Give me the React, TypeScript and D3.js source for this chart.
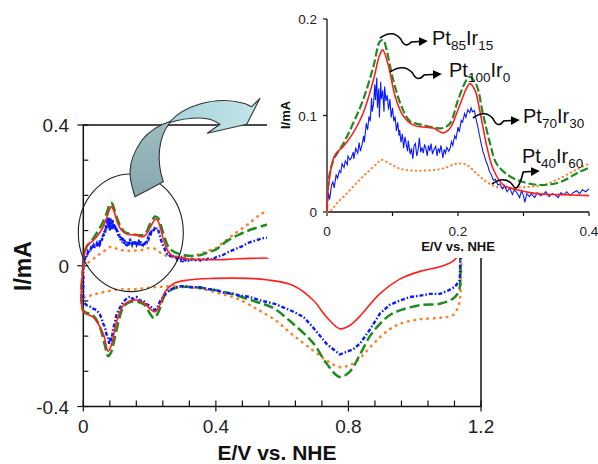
import React from "react";
import * as d3 from "d3";

type P = [number, number];

// ---------- axis ticks ----------
const MAIN_X_LABELS = [0, 0.4, 0.8, 1.2];
const MAIN_Y_LABELS = [0.4, 0, -0.4];
const INSET_X_LABELS = [0, 0.2, 0.4];
const INSET_Y_LABELS = [0, 0.1, 0.2];
const INSET_X_TICKS = [0, 0.1, 0.2, 0.3, 0.4];

// ---------- series (E/V, I/mA) ----------
const redAnodic: P[] = [
  [0, 0.0], [0.002, 0.026], [0.012, 0.059], [0.025, 0.068], [0.04, 0.082], [0.055, 0.102],
  [0.071, 0.137], [0.08, 0.162], [0.085, 0.168], [0.094, 0.151], [0.104, 0.12], [0.116, 0.1],
  [0.132, 0.09], [0.147, 0.088], [0.162, 0.087], [0.177, 0.082], [0.188, 0.087], [0.2, 0.106],
  [0.213, 0.128], [0.218, 0.133], [0.226, 0.126], [0.233, 0.106], [0.244, 0.068], [0.254, 0.044],
  [0.269, 0.028], [0.29, 0.023], [0.32, 0.019], [0.356, 0.018], [0.4, 0.017], [0.45, 0.019],
  [0.5, 0.021], [0.56, 0.022],
];
const greenAnodic: P[] = [
  [0, 0.0], [0.003, 0.035], [0.01, 0.054], [0.025, 0.071], [0.04, 0.092], [0.055, 0.116],
  [0.071, 0.151], [0.081, 0.177], [0.086, 0.178], [0.091, 0.168], [0.101, 0.137], [0.114, 0.109],
  [0.127, 0.094], [0.147, 0.09], [0.167, 0.087], [0.177, 0.087], [0.188, 0.092], [0.2, 0.116],
  [0.213, 0.137], [0.218, 0.14], [0.228, 0.132], [0.238, 0.102], [0.249, 0.071], [0.259, 0.05],
  [0.279, 0.037], [0.305, 0.03], [0.33, 0.028], [0.356, 0.031], [0.381, 0.04], [0.4, 0.046],
  [0.433, 0.07], [0.473, 0.09], [0.513, 0.105], [0.56, 0.118],
];
const orangeAnodic: P[] = [
  [0, 0.0], [0.007, 0.002], [0.015, 0.009], [0.03, 0.019], [0.045, 0.03], [0.06, 0.04],
  [0.076, 0.05], [0.083, 0.054], [0.096, 0.05], [0.111, 0.045], [0.127, 0.043], [0.152, 0.043],
  [0.177, 0.045], [0.198, 0.05], [0.213, 0.049], [0.228, 0.04], [0.244, 0.031], [0.259, 0.026],
  [0.279, 0.025], [0.305, 0.026], [0.33, 0.028], [0.356, 0.035], [0.381, 0.044], [0.4, 0.05],
  [0.422, 0.066], [0.452, 0.088], [0.493, 0.115], [0.533, 0.145], [0.56, 0.16],
];
const blueAnodic: P[] = [
  [0, 0.004], [0.002, 0.02], [0.004, 0.013], [0.007, 0.028], [0.009, 0.031], [0.011, 0.025],
  [0.014, 0.039], [0.016, 0.035], [0.019, 0.043], [0.021, 0.041], [0.023, 0.05], [0.026, 0.046],
  [0.028, 0.053], [0.031, 0.049], [0.032, 0.058], [0.035, 0.054], [0.037, 0.056], [0.04, 0.062],
  [0.041, 0.055], [0.044, 0.066], [0.047, 0.061], [0.049, 0.072], [0.051, 0.063], [0.053, 0.068],
  [0.056, 0.079], [0.057, 0.072], [0.06, 0.092], [0.062, 0.085], [0.064, 0.099], [0.066, 0.094],
  [0.068, 0.118], [0.069, 0.104], [0.071, 0.112], [0.073, 0.132], [0.074, 0.116], [0.076, 0.139],
  [0.077, 0.108], [0.079, 0.128], [0.08, 0.098], [0.082, 0.135], [0.083, 0.117], [0.085, 0.126],
  [0.087, 0.104], [0.088, 0.13], [0.09, 0.115], [0.092, 0.121], [0.094, 0.106], [0.096, 0.117],
  [0.098, 0.098], [0.1, 0.108], [0.102, 0.094], [0.104, 0.099], [0.106, 0.084], [0.108, 0.093],
  [0.11, 0.079], [0.111, 0.085], [0.113, 0.072], [0.115, 0.081], [0.117, 0.066], [0.119, 0.078],
  [0.121, 0.07], [0.123, 0.063], [0.124, 0.074], [0.127, 0.06], [0.129, 0.066], [0.131, 0.055],
  [0.133, 0.069], [0.135, 0.071], [0.137, 0.058], [0.139, 0.064], [0.141, 0.077], [0.143, 0.062],
  [0.145, 0.067], [0.147, 0.061], [0.149, 0.07], [0.151, 0.066], [0.153, 0.058], [0.155, 0.069],
  [0.157, 0.063], [0.159, 0.071], [0.161, 0.06], [0.163, 0.064], [0.166, 0.068], [0.168, 0.058],
  [0.17, 0.066], [0.172, 0.062], [0.174, 0.069], [0.177, 0.056], [0.179, 0.065], [0.181, 0.061],
  [0.183, 0.067], [0.186, 0.063], [0.188, 0.066], [0.19, 0.073], [0.192, 0.069], [0.195, 0.079],
  [0.197, 0.076], [0.2, 0.088], [0.202, 0.083], [0.205, 0.095], [0.207, 0.093], [0.21, 0.102],
  [0.212, 0.098], [0.215, 0.106], [0.218, 0.103], [0.22, 0.108], [0.222, 0.104], [0.225, 0.105],
  [0.228, 0.095], [0.23, 0.089], [0.233, 0.079], [0.235, 0.072], [0.238, 0.063], [0.24, 0.059],
  [0.243, 0.052], [0.245, 0.049], [0.248, 0.042], [0.25, 0.04], [0.254, 0.033], [0.257, 0.034],
  [0.261, 0.028], [0.264, 0.029], [0.268, 0.024], [0.271, 0.027], [0.275, 0.021], [0.279, 0.025],
  [0.283, 0.018], [0.286, 0.023], [0.29, 0.02], [0.294, 0.015], [0.297, 0.022], [0.3, 0.017],
  [0.302, 0.01], [0.305, 0.019], [0.309, 0.016], [0.312, 0.019], [0.317, 0.015], [0.321, 0.02],
  [0.326, 0.017], [0.33, 0.018], [0.334, 0.021], [0.339, 0.016], [0.344, 0.019], [0.348, 0.018],
  [0.353, 0.015], [0.357, 0.02], [0.362, 0.018], [0.366, 0.021], [0.371, 0.017], [0.376, 0.02],
  [0.381, 0.022], [0.386, 0.019], [0.39, 0.023], [0.395, 0.021], [0.4, 0.024], [0.42, 0.03],
  [0.44, 0.04], [0.46, 0.048], [0.48, 0.056], [0.5, 0.066], [0.52, 0.072], [0.54, 0.078],
  [0.56, 0.08],
];

const redCathodic: P[] = [
  [0, 0], [0, -0.131], [0.03, -0.146], [0.06, -0.193], [0.075, -0.243], [0.085, -0.225],
  [0.1, -0.16], [0.121, -0.112], [0.141, -0.1], [0.166, -0.098], [0.186, -0.108], [0.201, -0.122],
  [0.216, -0.131], [0.231, -0.112], [0.246, -0.075], [0.272, -0.051], [0.312, -0.041],
  [0.392, -0.036], [0.5, -0.036], [0.553, -0.04], [0.633, -0.056], [0.694, -0.098],
  [0.734, -0.146], [0.774, -0.179], [0.805, -0.169], [0.835, -0.143], [0.895, -0.079],
  [0.955, -0.038], [1.016, -0.016], [1.076, -0.003], [1.116, 0.013], [1.131, 0.03], [1.14, 0.06],
];
const blueCathodic: P[] = [
  [0, 0], [0, -0.103], [0.01, -0.112], [0.02, -0.116], [0.03, -0.122], [0.04, -0.126],
  [0.05, -0.138], [0.055, -0.15], [0.06, -0.165], [0.065, -0.173], [0.07, -0.195], [0.075, -0.203],
  [0.078, -0.222], [0.082, -0.204], [0.085, -0.216], [0.09, -0.178], [0.095, -0.163], [0.1, -0.14],
  [0.11, -0.12], [0.121, -0.102], [0.13, -0.094], [0.141, -0.087], [0.15, -0.095], [0.161, -0.089],
  [0.17, -0.099], [0.181, -0.098], [0.19, -0.109], [0.201, -0.113], [0.21, -0.123], [0.216, -0.126],
  [0.223, -0.12], [0.231, -0.102], [0.24, -0.089], [0.251, -0.075], [0.265, -0.067], [0.282, -0.06],
  [0.3, -0.058], [0.322, -0.061], [0.35, -0.061], [0.372, -0.066], [0.4, -0.069], [0.422, -0.076],
  [0.45, -0.079], [0.473, -0.085], [0.5, -0.088], [0.533, -0.098], [0.58, -0.109], [0.633, -0.13],
  [0.665, -0.146], [0.694, -0.176], [0.714, -0.199], [0.734, -0.222], [0.755, -0.238],
  [0.774, -0.252], [0.795, -0.245], [0.815, -0.237], [0.835, -0.221], [0.865, -0.181],
  [0.895, -0.136], [0.925, -0.111], [0.955, -0.099], [0.985, -0.089], [1.016, -0.085],
  [1.046, -0.08], [1.076, -0.08], [1.1, -0.071], [1.121, -0.06], [1.136, -0.041], [1.138, 0.04],
];
const greenCathodic: P[] = [
  [0, 0], [0, -0.127], [0.03, -0.141], [0.05, -0.174], [0.065, -0.226], [0.075, -0.257],
  [0.082, -0.25], [0.09, -0.226], [0.106, -0.16], [0.121, -0.117], [0.141, -0.103], [0.166, -0.103],
  [0.186, -0.112], [0.201, -0.136], [0.213, -0.149], [0.222, -0.14], [0.231, -0.122],
  [0.246, -0.084], [0.272, -0.065], [0.312, -0.06], [0.372, -0.065], [0.443, -0.079],
  [0.523, -0.103], [0.573, -0.12], [0.633, -0.165], [0.694, -0.22], [0.734, -0.278],
  [0.774, -0.316], [0.805, -0.3], [0.835, -0.252], [0.865, -0.2], [0.895, -0.165],
  [0.925, -0.14], [0.955, -0.127], [1.016, -0.112], [1.076, -0.108], [1.116, -0.093],
  [1.134, -0.07], [1.136, 0.04],
];
const orangeCathodic: P[] = [
  [0, 0], [0, -0.089], [0.03, -0.082], [0.07, -0.073], [0.11, -0.067], [0.151, -0.067],
  [0.191, -0.063], [0.231, -0.06], [0.272, -0.058], [0.312, -0.06], [0.362, -0.067],
  [0.412, -0.079], [0.463, -0.093], [0.513, -0.117], [0.533, -0.128], [0.58, -0.155],
  [0.633, -0.197], [0.694, -0.241], [0.734, -0.269], [0.774, -0.288], [0.805, -0.282],
  [0.835, -0.262], [0.865, -0.232], [0.895, -0.203], [0.925, -0.18], [0.955, -0.165],
  [1.016, -0.152], [1.076, -0.148], [1.116, -0.14], [1.131, -0.117], [1.137, -0.09], [1.141, 0.04],
];

// label annotations in the inset: Pt subscript | Ir subscript
const LABEL_NAMES = ["85|15", "100|0", "70|30", "40|60"];

const RED = "#ff1f1f";
const GREEN = "#1e8c1e";
const BLUE = "#0a1aff";
const ORANGE = "#ff7f2a";
const FONT = "'Liberation Sans', Arial, sans-serif";

export default function App() {
  const x = d3.scaleLinear().domain([0, 1.2]).range([83.3, 481]);
  const y = d3.scaleLinear().domain([-0.4, 0.4]).range([406.5, 125]);
  const ix = d3.scaleLinear().domain([0, 0.4]).range([327, 589]);
  const iy = d3.scaleLinear().domain([0, 0.2]).range([212, 19]);

  const lineLin = d3.line<P>().x((d) => x(d[0])).y((d) => y(d[1]));
  const ilineLin = d3.line<P>().x((d) => ix(d[0])).y((d) => iy(d[1]));
  const smooth = d3.line<P>().x((d) => x(d[0])).y((d) => y(d[1])).curve(d3.curveCatmullRom);
  const ismooth = d3.line<P>().x((d) => ix(d[0])).y((d) => iy(d[1])).curve(d3.curveCatmullRom);
  const inInset = (arr: P[]) => arr.filter((d) => d[0] <= 0.4001);

  const minorX = d3.range(0, 1.2001, 0.08);
  const minorY = d3.range(-0.4, 0.4001, 0.1);

  // squiggly pointer path
  const squiggle = (sx: number, sy: number, ex: number, ey: number) => {
    const w = ex - sx;
    return `M${sx},${sy} Q${sx + 0.28 * w},${sy - 9} ${sx + 0.45 * w},${sy + 1} Q${sx + 0.55 * w},${sy + 11} ${sx + 0.68 * w},${ey + 1} L${ex},${ey}`;
  };

  const labels = [
    { s: [380, 38], e: [426, 41], tx: 432, ty: 45 },
    { s: [390, 72], e: [440, 74], tx: 449, ty: 77 },
    { s: [473, 118], e: [518, 120], tx: 523, ty: 123 },
    { s: [492, 184], e: [538, 171], tx: 522, ty: 163 },
  ];

  return (
    <svg
      width={598}
      height={464}
      style={{ position: "absolute", left: 0, top: 0, background: "#fff" }}
      fontFamily={FONT}
    >
      <defs>
        <marker id="ah" viewBox="0 0 10 10" refX="8" refY="5" markerWidth="9" markerHeight="9" markerUnits="userSpaceOnUse" orient="auto">
          <path d="M0,0 L10,5 L0,10 z" fill="#000" />
        </marker>
        <linearGradient id="lightG" x1="0" y1="0" x2="1" y2="0">
          <stop offset="0" stopColor="#a9d3d9" />
          <stop offset="1" stopColor="#c2e6ea" />
        </linearGradient>
        <linearGradient id="darkG" x1="0" y1="0" x2="0" y2="1">
          <stop offset="0" stopColor="#9bbcc1" />
          <stop offset="1" stopColor="#86a8ae" />
        </linearGradient>
      </defs>

      {/* main frame */}
      <rect x={x(0)} y={y(0.4)} width={x(1.2) - x(0)} height={y(-0.4) - y(0.4)} fill="none" stroke="#111" strokeWidth={1.5} />
      {minorX.map((v, i) => (
        <line key={"mx" + i} x1={x(v)} x2={x(v)} y1={y(-0.4) - 6} y2={y(-0.4)} stroke="#111" strokeWidth={1.2} />
      ))}
      {MAIN_X_LABELS.map((v) => (
        <g key={"xl" + v}>
          <line x1={x(v)} x2={x(v)} y1={y(-0.4)} y2={y(-0.4) + 5} stroke="#111" strokeWidth={1.2} />
          <text x={x(v)} y={433} textAnchor="middle" fontSize={19} fill="#222">{v === 0 ? "0" : v.toFixed(1)}</text>
        </g>
      ))}
      {minorY.map((v, i) => (
        <line key={"my" + i} x1={x(0)} x2={x(0) + 5} y1={y(v)} y2={y(v)} stroke="#111" strokeWidth={1.2} />
      ))}
      {MAIN_Y_LABELS.map((v) => (
        <g key={"yl" + v}>
          <line x1={x(0) - 6} x2={x(0)} y1={y(v)} y2={y(v)} stroke="#111" strokeWidth={1.2} />
          <text x={69} y={y(v) + 7} textAnchor="end" fontSize={19} fill="#222">{v === 0 ? "0" : v.toFixed(1)}</text>
        </g>
      ))}
      <text x={277} y={460} textAnchor="middle" fontSize={21} fontWeight="bold" fill="#111">E/V vs. NHE</text>
      <text transform="translate(31,266) rotate(-90)" textAnchor="middle" fontSize={23} fontWeight="bold" fill="#111">I/mA</text>

      {/* main curves */}
      <g fill="none">
        <path d={smooth(orangeAnodic) || ""} stroke={ORANGE} strokeWidth={2.6} strokeDasharray="0.5,6" strokeLinecap="round" />
        <path d={smooth(orangeCathodic) || ""} stroke={ORANGE} strokeWidth={2.6} strokeDasharray="0.5,6" strokeLinecap="round" />
        <path d={smooth(greenAnodic) || ""} stroke={GREEN} strokeWidth={2.5} strokeDasharray="10,4" />
        <path d={smooth(greenCathodic) || ""} stroke={GREEN} strokeWidth={2.5} strokeDasharray="10,4" />
        <path d={lineLin(blueAnodic) || ""} stroke={BLUE} strokeWidth={2.4} strokeDasharray="4,2,1.5,2" />
        <path d={lineLin(blueCathodic) || ""} stroke={BLUE} strokeWidth={2.4} strokeDasharray="4,2,1.5,2" />
        <path d={smooth(redAnodic) || ""} stroke={RED} strokeWidth={1.6} />
        <path d={smooth(redCathodic) || ""} stroke={RED} strokeWidth={1.6} />
      </g>

      {/* circle highlighting region */}
      <ellipse cx={130.8} cy={232.8} rx={52.5} ry={58.8} fill="none" stroke="#222" strokeWidth={1.1} />

      {/* inset */}
      <rect x={267} y={0} width={331} height={258} fill="#fff" />
      <line x1={ix(0)} x2={ix(0.4)} y1={iy(0)} y2={iy(0)} stroke="#111" strokeWidth={1.3} />
      <line x1={ix(0)} x2={ix(0)} y1={iy(0)} y2={iy(0.2)} stroke="#111" strokeWidth={1.3} />
      {INSET_X_TICKS.map((v) => (
        <line key={"ixt" + v} x1={ix(v)} x2={ix(v)} y1={iy(0)} y2={iy(0) + 4} stroke="#111" strokeWidth={1.2} />
      ))}
      {INSET_X_LABELS.map((v) => (
        <text key={"ixl" + v} x={ix(v)} y={236} textAnchor="middle" fontSize={13.5} fill="#222">{v === 0 ? "0" : v.toFixed(1)}</text>
      ))}
      {INSET_Y_LABELS.map((v) => (
        <g key={"iyl" + v}>
          <line x1={ix(0) - 4} x2={ix(0)} y1={iy(v)} y2={iy(v)} stroke="#111" strokeWidth={1.2} />
          <text x={317} y={iy(v) + 5} textAnchor="end" fontSize={13.5} fill="#222">{v === 0 ? "0" : v.toFixed(1)}</text>
        </g>
      ))}
      <text x={458} y={251} textAnchor="middle" fontSize={13} fontWeight="bold" fill="#111">E/V vs. NHE</text>
      <text transform="translate(290,115) rotate(-90)" textAnchor="middle" fontSize={13} fontWeight="bold" fill="#111">I/mA</text>

      <g fill="none">
        <path d={ismooth(inInset(orangeAnodic)) || ""} stroke={ORANGE} strokeWidth={2} strokeDasharray="0.5,4" strokeLinecap="round" />
        <path d={ismooth(inInset(greenAnodic)) || ""} stroke={GREEN} strokeWidth={2.2} strokeDasharray="8,3" />
        <path d={ilineLin(inInset(blueAnodic)) || ""} stroke={BLUE} strokeWidth={1.1} />
        <path d={ismooth(inInset(redAnodic)) || ""} stroke={RED} strokeWidth={1.6} />
      </g>

      {/* labels with squiggly pointers */}
      {labels.map((l, i) => {
        const [a, b] = LABEL_NAMES[i].split("|");
        return (
          <g key={"lab" + i}>
            <path d={squiggle(l.s[0], l.s[1], l.e[0], l.e[1])} fill="none" stroke="#000" strokeWidth={1.6} markerEnd="url(#ah)" />
            <text x={l.tx} y={l.ty} fontSize={20} fill="#111">
              Pt<tspan fontSize={13.5} dy={5}>{a}</tspan>
              <tspan dy={-5}>Ir</tspan>
              <tspan fontSize={13.5} dy={5}>{b}</tspan>
            </text>
          </g>
        );
      })}

      {/* curved block arrow */}
      <path
        d="M170,121.5 C162,124 150,130 142,140 C135,150 130,162 130,172 C130,182 133,190 135,196.7 L163.3,181.7 C160,172 158.5,160 159.5,150 C160.5,140 164,130 170,122.5 Z"
        fill="url(#darkG)" stroke="#333" strokeWidth={1.1} strokeLinejoin="round"
      />
      <path
        d="M170,121.5 C176,115 186,108 200,104 C212,100.5 226,99.5 238,102 C244,103 248,104.5 251.7,106.7 L260,98.3 L246.7,124.3 L207.3,133.3 L220,124.3 C214,120 207,118 200,118 C188,118 178,120 170,122.5 Z"
        fill="url(#lightG)" stroke="#333" strokeWidth={1.1} strokeLinejoin="round"
      />
    </svg>
  );
}
